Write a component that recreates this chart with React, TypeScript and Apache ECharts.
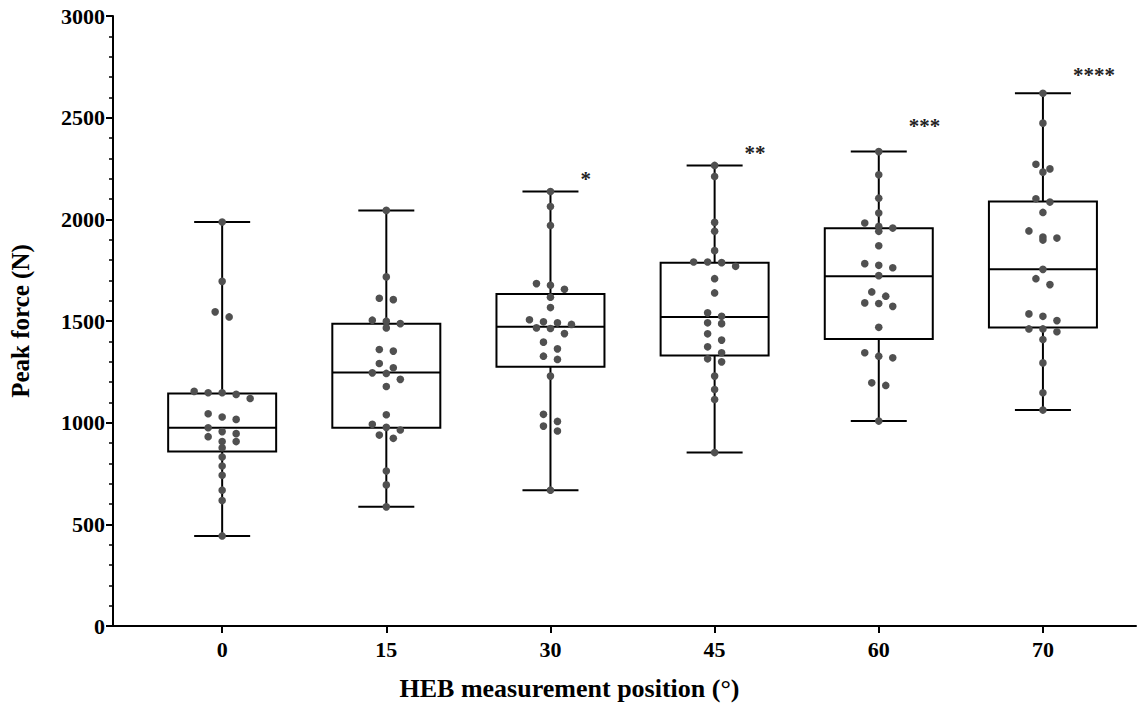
import React, { useEffect, useRef } from "react";
import * as echarts from "echarts";

const categories = ["0", "15", "30", "45", "60", "70"];

const points0 = [1987, 1695, 1545, 1520, 1154, 1147, 1147, 1139, 1119, 1044, 1028, 1016, 975, 956, 946, 931, 907, 907, 877, 831, 787, 741, 668, 617, 443];
const points15 = [2044, 1717, 1605, 1612, 1499, 1504, 1487, 1466, 1352, 1360, 1270, 1291, 1242, 1245, 1213, 1178, 1039, 977, 964, 992, 939, 923, 762, 694, 586];
const points30 = [2137, 2063, 1970, 1676, 1684, 1656, 1617, 1566, 1491, 1506, 1496, 1463, 1483, 1466, 1438, 1396, 1363, 1327, 1311, 1229, 1041, 1006, 983, 959, 668];
const points45 = [2265, 2211, 1985, 1941, 1846, 1790, 1787, 1769, 1790, 1708, 1638, 1523, 1540, 1487, 1491, 1437, 1406, 1373, 1344, 1299, 1314, 1229, 1163, 1114, 853];
const points60 = [2333, 2219, 2104, 2031, 1982, 1957, 1965, 1941, 1870, 1782, 1762, 1774, 1723, 1643, 1622, 1586, 1572, 1589, 1469, 1344, 1319, 1327, 1196, 1183, 1008];
const points70 = [2620, 2473, 2271, 2248, 2232, 2101, 2085, 2034, 1908, 1913, 1943, 1898, 1754, 1679, 1708, 1523, 1502, 1535, 1447, 1461, 1461, 1409, 1294, 1147, 1062];
const groupPoints = [points0, points15, points30, points45, points60, points70];

const boxMin = [443, 586, 668, 853, 1008, 1062];
const boxQ1 = [858, 975, 1275, 1330, 1412, 1468];
const boxMedian = [975, 1247, 1472, 1520, 1720, 1754];
const boxQ3 = [1144, 1487, 1633, 1787, 1956, 2088];
const boxMax = [1987, 2044, 2137, 2265, 2333, 2620];

const significance = ["", "", "*", "**", "***", "****"];
const significanceY = [0, 0, 2219, 2347, 2479, 2730];

const yTicks = [0, 500, 1000, 1500, 2000, 2500, 3000];

const FONT = '"Liberation Serif", "Times New Roman", serif';

// beeswarm-like layout: cluster close values into rows, center each row
function swarm(values: number[], threshold: number, stepPx: number) {
  const sorted = values.slice().sort((a, b) => b - a);
  const out: [number, number][] = [];
  let i = 0;
  while (i < sorted.length) {
    const start = sorted[i];
    const row: number[] = [];
    while (i < sorted.length && start - sorted[i] <= threshold) {
      row.push(sorted[i]);
      i++;
    }
    const n = row.length;
    row.forEach((v, k) => {
      out.push([v, (k - (n - 1) / 2) * stepPx]);
    });
  }
  return out;
}

export default function App() {
  const ref = useRef<HTMLDivElement>(null);
  useEffect(() => {
    if (!ref.current) return;
    const chart = echarts.init(ref.current, undefined, { renderer: "svg" });

    const boxData = categories.map((_, i) => [i, boxMin[i], boxQ1[i], boxMedian[i], boxQ3[i], boxMax[i]]);
    const dotData: number[][] = [];
    groupPoints.forEach((pts, i) => {
      swarm(pts, 35, 14).forEach(([v, off]) => dotData.push([i, v, off]));
    });
    const sigData = categories
      .map((_, i) => [i, significanceY[i], i])
      .filter((d) => significance[d[2]] !== "");

    const option: any = {
      animation: false,
      backgroundColor: "#fff",
      grid: { left: 113, right: 10, top: 16, bottom: 79, containLabel: false },
      xAxis: {
        type: "value",
        min: -0.665,
        max: 5.567,
        name: "HEB measurement position (°)",
        nameLocation: "middle",
        nameGap: 49,
        nameTextStyle: {
          fontFamily: FONT,
          fontWeight: "bold",
          fontSize: 26,
          color: "#000",
          padding: [0, 110, 0, 0],
        },
        axisLine: { show: true, onZero: false, lineStyle: { color: "#000", width: 2 } },
        axisTick: { show: true, length: 7, lineStyle: { color: "#000", width: 2 }, customValues: [0, 1, 2, 3, 4, 5] },
        axisLabel: {
          customValues: [0, 1, 2, 3, 4, 5],
          formatter: (v: number) => categories[Math.round(v)] ?? "",
          fontFamily: FONT,
          fontWeight: "bold",
          fontSize: 22,
          color: "#000",
          margin: 12,
        },
        splitLine: { show: false },
      },
      yAxis: {
        type: "value",
        min: 0,
        max: 3000,
        interval: 500,
        name: "Peak force (N)",
        nameLocation: "middle",
        nameGap: 80,
        nameRotate: 90,
        nameTextStyle: { fontFamily: FONT, fontWeight: "bold", fontSize: 25, color: "#000" },
        axisLine: { show: true, onZero: false, lineStyle: { color: "#000", width: 2 } },
        axisTick: { show: true, length: 7, lineStyle: { color: "#000", width: 2 } },
        minorTick: { show: true, splitNumber: 5, length: 4, lineStyle: { color: "#000", width: 1.5 } },
        axisLabel: {
          formatter: (v: number) => (yTicks.includes(v) ? String(v) : ""),
          fontFamily: FONT,
          fontWeight: "bold",
          fontSize: 22,
          color: "#000",
          margin: 8,
        },
        splitLine: { show: false },
      },
      series: [
        {
          type: "custom",
          name: "box",
          data: boxData,
          encode: { x: 0, y: [1, 2, 3, 4, 5] },
          z: 2,
          renderItem: (params: any, api: any) => {
            const x = api.value(0);
            const c = (v: number) => api.coord([x, v]);
            const [cx, yMin] = c(api.value(1));
            const yQ1 = c(api.value(2))[1];
            const yMed = c(api.value(3))[1];
            const yQ3 = c(api.value(4))[1];
            const yMax = c(api.value(5))[1];
            const hw = 54;
            const cap = 28;
            const st = { stroke: "#000", lineWidth: 2, fill: "none" };
            return {
              type: "group",
              children: [
                { type: "line", shape: { x1: cx, y1: yQ3, x2: cx, y2: yMax }, style: st },
                { type: "line", shape: { x1: cx, y1: yQ1, x2: cx, y2: yMin }, style: st },
                { type: "line", shape: { x1: cx - cap, y1: yMax, x2: cx + cap, y2: yMax }, style: st },
                { type: "line", shape: { x1: cx - cap, y1: yMin, x2: cx + cap, y2: yMin }, style: st },
                { type: "rect", shape: { x: cx - hw, y: yQ3, width: 2 * hw, height: yQ1 - yQ3 }, style: st },
                { type: "line", shape: { x1: cx - hw, y1: yMed, x2: cx + hw, y2: yMed }, style: st },
              ],
            };
          },
        },
        {
          type: "custom",
          name: "points",
          data: dotData,
          encode: { x: 0, y: 1 },
          z: 3,
          renderItem: (params: any, api: any) => {
            const p = api.coord([api.value(0), api.value(1)]);
            return {
              type: "circle",
              shape: { cx: p[0] + api.value(2), cy: p[1], r: 3.8 },
              style: { fill: "#505050" },
            };
          },
        },
        {
          type: "custom",
          name: "significance",
          data: sigData,
          encode: { x: 0, y: 1 },
          z: 4,
          renderItem: (params: any, api: any) => {
            const p = api.coord([api.value(0), api.value(1)]);
            return {
              type: "text",
              x: p[0] + 30,
              y: p[1] + 4,
              style: {
                text: significance[api.value(2)],
                font: `bold 21px ${FONT}`,
                fill: "#222",
                textAlign: "left",
                textVerticalAlign: "middle",
              },
            };
          },
        },
      ],
    };
    chart.setOption(option);
    return () => chart.dispose();
  }, []);
  return <div ref={ref} style={{ width: 1146, height: 706, position: "absolute", left: 0, top: 0 }} />;
}
